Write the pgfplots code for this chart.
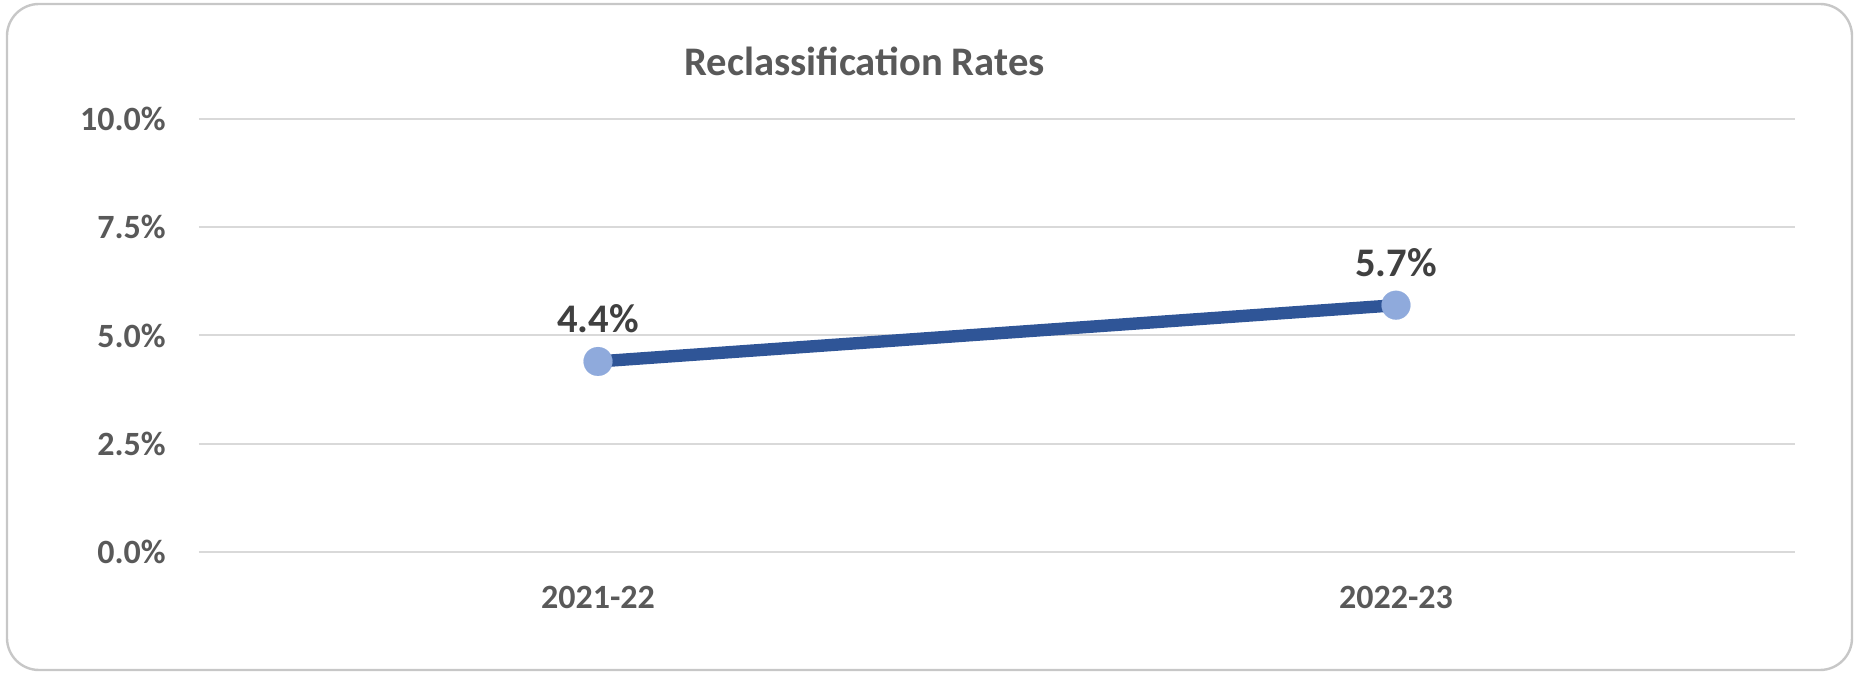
\documentclass[border=0pt]{standalone}
\usepackage{pgfplots}
\pgfplotsset{compat=1.18}
\usepackage{fontspec}
\setmainfont{Carlito}
\definecolor{tickgray}{HTML}{595959}
\definecolor{labgray}{HTML}{404040}
\definecolor{gridgray}{HTML}{D9D9D9}
\definecolor{linecol}{HTML}{2F5597}
\definecolor{markcol}{HTML}{8FAADC}
\begin{document}
\begin{tikzpicture}
\useasboundingbox (-99.5pt,-60.5pt) rectangle (827.5pt,276pt);
\draw[gridgray!80!gray, line width=1.2pt, rounded corners=16pt] (-96pt,-59pt) rectangle (826.5pt,274pt);
\begin{axis}[
  at={(0pt,0pt)}, anchor=south west,
  scale only axis,
  width=798pt, height=216.5pt,
  xmin=-0.5, xmax=1.5,
  ymin=0, ymax=10,
  xtick={0,1},
  xticklabels={2021-22,2022-23},
  ytick={0,2.5,5,7.5,10},
  yticklabels={0.0\%,2.5\%,5.0\%,7.5\%,10.0\%},
  axis line style={draw=none},
  major tick length=0pt,
  ymajorgrids,
  grid style={gridgray, line width=1pt},
  tick label style={font=\fontsize{17pt}{20pt}\selectfont\bfseries, text=tickgray},
  yticklabel style={anchor=east, inner sep=0pt, xshift=-16.5pt},
  xticklabel style={anchor=center, inner sep=0pt, yshift=-22.5pt},
  title={Reclassification Rates},
  title style={at={(rel axis cs:0.417,1.106)}, anchor=center, inner sep=0pt,
    font=\fontsize{20.3pt}{24pt}\selectfont\bfseries, text=tickgray},
  clip=false,
]
\addplot[linecol, line width=6.2pt,
  mark=*, mark size=7.2pt, mark options={fill=markcol, draw=markcol, line width=0.1pt},
  nodes near coords, point meta=explicit symbolic,
  every node near coord/.append style={anchor=center, yshift=21.5pt, inner sep=0pt,
    font=\fontsize{20.3pt}{24pt}\selectfont\bfseries, text=labgray}]
  coordinates {(0,4.4) [4.4\%] (1,5.7) [5.7\%]};
\end{axis}
\end{tikzpicture}
\end{document}
